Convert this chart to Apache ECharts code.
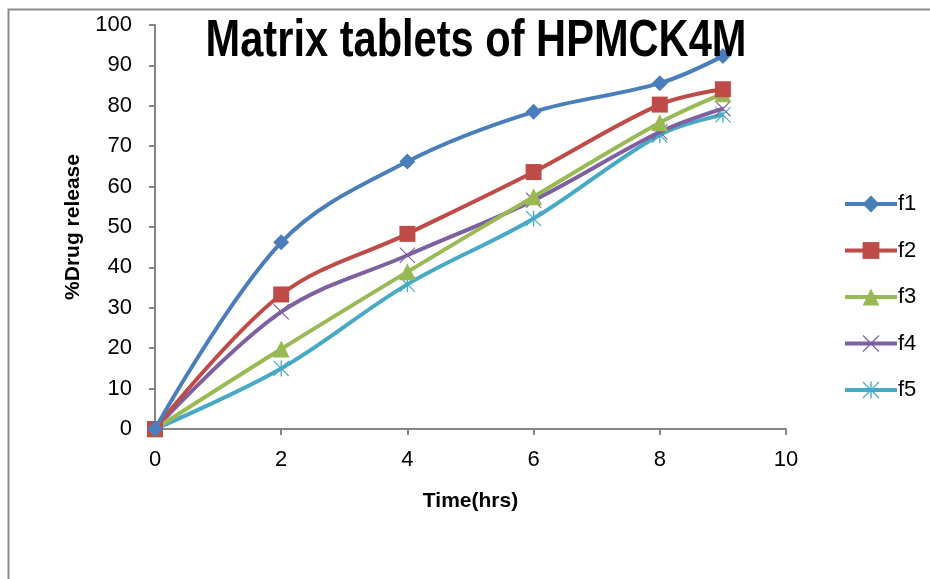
<!DOCTYPE html>
<html>
<head>
<meta charset="utf-8">
<script src="https://cdn.jsdelivr.net/npm/echarts@6/dist/echarts.min.js"></script>
<style>
html,body{margin:0;padding:0;background:#fff;}
#chart{width:930px;height:579px;}
</style>
</head>
<body>
<div id="chart"></div>
<script>
var timeHrs = [0, 2, 4, 6, 8, 9];
var seriesNames = ['f1', 'f2', 'f3', 'f4', 'f5'];
var f1 = [0, 46.2, 66.2, 78.5, 85.6, 92.3];
var f2 = [0, 33.3, 48.3, 63.6, 80.3, 84.1];
var f3 = [0, 19.8, 38.9, 57.5, 75.8, 83.0];
var f4 = [0, 29.0, 43.0, 56.6, 73.5, 79.3];
var f5 = [0, 15.0, 35.8, 52.1, 72.8, 77.8];
var yTicks = [0, 10, 20, 30, 40, 50, 60, 70, 80, 90, 100];
var xTicks = [0, 2, 4, 6, 8, 10];
var titleText = 'Matrix tablets of HPMCK4M';

var colors = ['#4a7ebb', '#be4b48', '#98b954', '#7d60a0', '#46aac5'];
var xPath = 'path://M0 1 L1 0 L20 19 L19 20 Z M19 0 L20 1 L1 20 L0 19 Z';
var starPath = 'path://M0 1 L1 0 L20 19 L19 20 Z M19 0 L20 1 L1 20 L0 19 Z M9.2 0 L10.8 0 L10.8 20 L9.2 20 Z';
var symbols = ['diamond', 'rect', 'triangle', xPath, starPath];
var symbolSizes = [16, 16, 17, 16, 16];
var allData = [f1, f2, f3, f4, f5];
var font = '"Liberation Sans", Arial, sans-serif';

function pairs(arr) {
  return timeHrs.map(function (t, i) { return [t, arr[i]]; });
}

var chart = echarts.init(document.getElementById('chart'), null, {renderer: 'canvas'});
chart.setOption({
  animation: false,
  backgroundColor: '#fff',
  graphic: [{
    type: 'rect', left: 6, top: 7, z: -1,
    shape: {width: 1000, height: 1000},
    style: {fill: 'none', stroke: '#8c8c8c', lineWidth: 2}
  }, {
    type: 'text', x: 476, y: 42, scaleX: 0.8, z: 100,
    style: {
      text: titleText, fill: '#000', align: 'center', verticalAlign: 'middle',
      font: 'bold 52px "Liberation Sans", Arial, sans-serif'
    }
  }],
  legend: {
    orient: 'vertical', left: 838, top: 188,
    itemWidth: 52, itemHeight: 21, itemGap: 24.5,
    data: seriesNames,
    lineStyle: {width: 4},
    textStyle: {fontFamily: font, fontSize: 22, color: '#000', padding: [0, 0, 0, -4]}
  },
  grid: {left: 155, right: 144, top: 25, bottom: 150, containLabel: false},
  xAxis: {
    type: 'value', min: xTicks[0], max: xTicks[xTicks.length - 1], interval: 2,
    name: 'Time(hrs)', nameLocation: 'middle', nameGap: 62,
    nameTextStyle: {fontFamily: font, fontWeight: 'bold', fontSize: 21, color: '#000'},
    axisLine: {show: true, lineStyle: {color: '#868686', width: 2}},
    axisTick: {show: true, length: 6, inside: false, lineStyle: {color: '#868686', width: 2}},
    axisLabel: {fontFamily: font, fontSize: 22, color: '#000', margin: 20},
    splitLine: {show: false}
  },
  yAxis: {
    type: 'value', min: yTicks[0], max: yTicks[yTicks.length - 1], interval: 10,
    name: '%Drug release', nameLocation: 'middle', nameGap: 71, nameRotate: 90,
    nameTextStyle: {fontFamily: font, fontWeight: 'bold', fontSize: 21, color: '#000'},
    axisLine: {show: true, lineStyle: {color: '#868686', width: 2}},
    axisTick: {show: true, length: 6, inside: false, lineStyle: {color: '#868686', width: 2}},
    axisLabel: {fontFamily: font, fontSize: 22, color: '#000', margin: 23},
    splitLine: {show: false}
  },
  series: seriesNames.map(function (n, i) {
    return {
      name: n, type: 'line', data: pairs(allData[i]),
      smooth: 0.35, clip: false,
      symbol: symbols[i], symbolSize: symbolSizes[i], showSymbol: true,
      color: colors[i],
      lineStyle: {color: colors[i], width: 4},
      itemStyle: {color: colors[i], borderWidth: 0},
      z: 10 - i
    };
  })
});
</script>
</body>
</html>
